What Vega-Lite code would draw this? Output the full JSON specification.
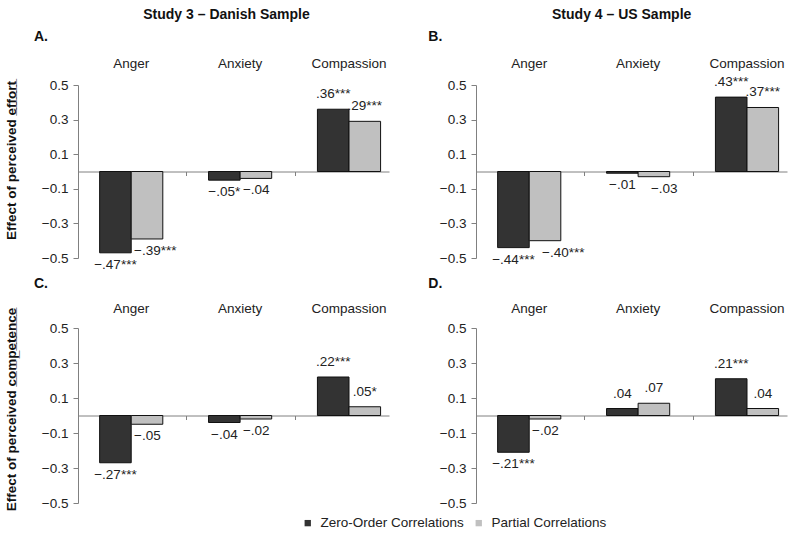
{
  "$schema": "https://vega.github.io/schema/vega-lite/v6.json",
  "background": "white",
  "padding": {"left": 3, "top": 8, "right": 5, "bottom": 5},
  "config": {
    "font": "Liberation Sans",
    "view": {"stroke": null},
    "axis": {"labelFont": "Liberation Sans", "labelFontSize": 13.5, "labelColor": "#222", "domainColor": "#808080", "tickColor": "#808080", "grid": false, "titleFont": "Liberation Sans", "titleFontSize": 13.5, "titleFontWeight": "bold", "titleColor": "#111"},
    "title": {"font": "Liberation Sans", "fontSize": 14, "fontWeight": "bold", "color": "#111"},
    "text": {"font": "Liberation Sans", "fontSize": 13.5, "color": "#222"},
    "legend": {"labelFont": "Liberation Sans"}
  },
  "datasets": {
    "corr": [
      {"panel": "A", "emotion": "Anger", "series": "Zero-Order Correlations", "value": -0.47, "label": "−.47***"},
      {"panel": "A", "emotion": "Anger", "series": "Partial Correlations", "value": -0.39, "label": "−.39***"},
      {"panel": "A", "emotion": "Anxiety", "series": "Zero-Order Correlations", "value": -0.05, "label": "−.05*"},
      {"panel": "A", "emotion": "Anxiety", "series": "Partial Correlations", "value": -0.04, "label": "−.04"},
      {"panel": "A", "emotion": "Compassion", "series": "Zero-Order Correlations", "value": 0.36, "label": ".36***"},
      {"panel": "A", "emotion": "Compassion", "series": "Partial Correlations", "value": 0.29, "label": ".29***"},
      {"panel": "B", "emotion": "Anger", "series": "Zero-Order Correlations", "value": -0.44, "label": "−.44***"},
      {"panel": "B", "emotion": "Anger", "series": "Partial Correlations", "value": -0.40, "label": "−.40***"},
      {"panel": "B", "emotion": "Anxiety", "series": "Zero-Order Correlations", "value": -0.01, "label": "−.01"},
      {"panel": "B", "emotion": "Anxiety", "series": "Partial Correlations", "value": -0.03, "label": "−.03"},
      {"panel": "B", "emotion": "Compassion", "series": "Zero-Order Correlations", "value": 0.43, "label": ".43***"},
      {"panel": "B", "emotion": "Compassion", "series": "Partial Correlations", "value": 0.37, "label": ".37***"},
      {"panel": "C", "emotion": "Anger", "series": "Zero-Order Correlations", "value": -0.27, "label": "−.27***"},
      {"panel": "C", "emotion": "Anger", "series": "Partial Correlations", "value": -0.05, "label": "−.05"},
      {"panel": "C", "emotion": "Anxiety", "series": "Zero-Order Correlations", "value": -0.04, "label": "−.04"},
      {"panel": "C", "emotion": "Anxiety", "series": "Partial Correlations", "value": -0.02, "label": "−.02"},
      {"panel": "C", "emotion": "Compassion", "series": "Zero-Order Correlations", "value": 0.22, "label": ".22***"},
      {"panel": "C", "emotion": "Compassion", "series": "Partial Correlations", "value": 0.05, "label": ".05*"},
      {"panel": "D", "emotion": "Anger", "series": "Zero-Order Correlations", "value": -0.21, "label": "−.21***"},
      {"panel": "D", "emotion": "Anger", "series": "Partial Correlations", "value": -0.02, "label": "−.02"},
      {"panel": "D", "emotion": "Anxiety", "series": "Zero-Order Correlations", "value": 0.04, "label": ".04"},
      {"panel": "D", "emotion": "Anxiety", "series": "Partial Correlations", "value": 0.07, "label": ".07"},
      {"panel": "D", "emotion": "Compassion", "series": "Zero-Order Correlations", "value": 0.21, "label": ".21***"},
      {"panel": "D", "emotion": "Compassion", "series": "Partial Correlations", "value": 0.04, "label": ".04"}
    ]
  },
  "data": {"name": "corr"},
  "spacing": 39,
  "hconcat": [
    {
      "title": {"text": "Study 3 – Danish Sample", "anchor": "middle", "dx": 30, "offset": 8},
      "spacing": 5,
      "vconcat": [
        {
          "title": {"text": "A.", "anchor": "start", "dx": 30, "offset": 12},
          "width": 311, "height": 173,
          "transform": [{"filter": "datum.panel === 'A'"}],
          "encoding": {
            "xOffset": {"field": "series", "type": "nominal", "sort": ["Zero-Order Correlations", "Partial Correlations"]},
            "y": {"field": "value", "type": "quantitative", "scale": {"domain": [-0.5, 0.5], "nice": false, "zero": false},
                  "axis": {"values": [-0.5, -0.3, -0.1, 0.1, 0.3, 0.5], "format": ".1f", "title": "Effect of perceived e̲f̲f̲o̲r̲t̲", "titleX": -60, "titleY": 75, "titleAngle": -90, "titleAlign": "center", "titleBaseline": "bottom", "domain": true, "ticks": true, "tickSize": 5, "labelPadding": 5}}
          },
          "layer": [
            {"mark": {"type": "bar", "stroke": "#111", "strokeWidth": 1},
             "encoding": {
               "x": {"field": "emotion", "type": "nominal", "sort": ["Anger", "Anxiety", "Compassion"], "scale": {"paddingInner": 0.42, "paddingOuter": 0.138, "align": 0.72},
                     "axis": {"orient": "bottom", "offset": -86.5, "labels": false, "title": null, "values": ["Anger", "Anxiety"], "bandPosition": 1, "tickOffset": 23, "tickSize": 4}},
               "color": {"field": "series", "type": "nominal", "sort": ["Zero-Order Correlations", "Partial Correlations"], "scale": {"domain": ["Zero-Order Correlations", "Partial Correlations"], "range": ["#333333", "#c0c0c0"]},
                         "legend": {"title": null, "orient": "none", "legendX": 223, "legendY": 431, "direction": "horizontal", "symbolType": "square", "symbolSize": 40, "symbolStrokeWidth": 0, "labelFontSize": 13.5, "labelColor": "#222", "columnPadding": 8, "labelOffset": 6}}
             }},
            {"transform": [{"filter": "datum.value < 0 && datum.series === 'Zero-Order Correlations'"}],
             "mark": {"type": "text", "baseline": "top", "dy": 5},
             "encoding": {
               "x": {"field": "emotion", "type": "nominal", "sort": ["Anger", "Anxiety", "Compassion"], "scale": {"paddingInner": 0.42, "paddingOuter": 0.138, "align": 0.72},
                     "axis": {"orient": "top", "title": null, "domain": false, "ticks": false, "labelPadding": 15, "labelAngle": 0}},
               "text": {"field": "label"}
             }},
            {"transform": [{"filter": "datum.value < 0 && datum.series === 'Partial Correlations'"}],
             "mark": {"type": "text", "baseline": "top", "align": "left", "dx": -13, "dy": 5},
             "encoding": {
               "x": {"field": "emotion", "type": "nominal", "sort": ["Anger", "Anxiety", "Compassion"], "axis": null},
               "text": {"field": "label"}
             }},
            {"transform": [{"filter": "datum.value >= 0"}],
             "mark": {"type": "text", "baseline": "bottom", "dy": -8},
             "encoding": {
               "x": {"field": "emotion", "type": "nominal", "sort": ["Anger", "Anxiety", "Compassion"], "axis": null},
               "text": {"field": "label"}
             }}
          ],
          "resolve": {"axis": {"x": "independent"}}
        },
        {
          "title": {"text": "C.", "anchor": "start", "dx": 30, "offset": 10},
          "width": 311, "height": 175,
          "transform": [{"filter": "datum.panel === 'C'"}],
          "encoding": {
            "xOffset": {"field": "series", "type": "nominal", "sort": ["Zero-Order Correlations", "Partial Correlations"]},
            "y": {"field": "value", "type": "quantitative", "scale": {"domain": [-0.5, 0.5], "nice": false, "zero": false},
                  "axis": {"values": [-0.5, -0.3, -0.1, 0.1, 0.3, 0.5], "format": ".1f", "title": "Effect of perceived c̲o̲m̲p̲e̲t̲e̲n̲c̲e̲", "titleX": -60, "titleY": 81, "titleAngle": -90, "titleAlign": "center", "titleBaseline": "bottom", "domain": true, "ticks": true, "tickSize": 5, "labelPadding": 5}}
          },
          "layer": [
            {"mark": {"type": "bar", "stroke": "#111", "strokeWidth": 1},
             "encoding": {
               "x": {"field": "emotion", "type": "nominal", "sort": ["Anger", "Anxiety", "Compassion"], "scale": {"paddingInner": 0.42, "paddingOuter": 0.138, "align": 0.72},
                     "axis": {"orient": "bottom", "offset": -87.5, "labels": false, "title": null, "values": ["Anger", "Anxiety"], "bandPosition": 1, "tickOffset": 23, "tickSize": 4}},
               "color": {"field": "series", "type": "nominal", "sort": ["Zero-Order Correlations", "Partial Correlations"], "scale": {"domain": ["Zero-Order Correlations", "Partial Correlations"], "range": ["#333333", "#c0c0c0"]},
                         "legend": {"title": null, "orient": "none", "legendX": 223, "legendY": 431, "direction": "horizontal", "symbolType": "square", "symbolSize": 40, "symbolStrokeWidth": 0, "labelFontSize": 13.5, "labelColor": "#222", "columnPadding": 8, "labelOffset": 6}}
             }},
            {"transform": [{"filter": "datum.value < 0 && datum.series === 'Zero-Order Correlations'"}],
             "mark": {"type": "text", "baseline": "top", "dy": 5},
             "encoding": {
               "x": {"field": "emotion", "type": "nominal", "sort": ["Anger", "Anxiety", "Compassion"], "scale": {"paddingInner": 0.42, "paddingOuter": 0.138, "align": 0.72},
                     "axis": {"orient": "top", "title": null, "domain": false, "ticks": false, "labelPadding": 13, "labelAngle": 0}},
               "text": {"field": "label"}
             }},
            {"transform": [{"filter": "datum.value < 0 && datum.series === 'Partial Correlations'"}],
             "mark": {"type": "text", "baseline": "top", "align": "left", "dx": -13, "dy": 5},
             "encoding": {
               "x": {"field": "emotion", "type": "nominal", "sort": ["Anger", "Anxiety", "Compassion"], "axis": null},
               "text": {"field": "label"}
             }},
            {"transform": [{"filter": "datum.value >= 0"}],
             "mark": {"type": "text", "baseline": "bottom", "dy": -8},
             "encoding": {
               "x": {"field": "emotion", "type": "nominal", "sort": ["Anger", "Anxiety", "Compassion"], "axis": null},
               "text": {"field": "label"}
             }}
          ],
          "resolve": {"axis": {"x": "independent"}}
        }
      ]
    },
    {
      "title": {"text": "Study 4 – US Sample", "anchor": "middle", "dx": 14, "offset": 8},
      "spacing": 10,
      "vconcat": [
        {
          "title": {"text": "B.", "anchor": "start", "dx": -11, "offset": 12},
          "width": 311, "height": 173,
          "transform": [{"filter": "datum.panel === 'B'"}],
          "encoding": {
            "xOffset": {"field": "series", "type": "nominal", "sort": ["Zero-Order Correlations", "Partial Correlations"]},
            "y": {"field": "value", "type": "quantitative", "scale": {"domain": [-0.5, 0.5], "nice": false, "zero": false},
                  "axis": {"values": [-0.5, -0.3, -0.1, 0.1, 0.3, 0.5], "format": ".1f", "title": null, "domain": true, "ticks": true, "tickSize": 5, "labelPadding": 5}}
          },
          "layer": [
            {"mark": {"type": "bar", "stroke": "#111", "strokeWidth": 1},
             "encoding": {
               "x": {"field": "emotion", "type": "nominal", "sort": ["Anger", "Anxiety", "Compassion"], "scale": {"paddingInner": 0.42, "paddingOuter": 0.138, "align": 0.72},
                     "axis": {"orient": "bottom", "offset": -86.5, "labels": false, "title": null, "values": ["Anger", "Anxiety"], "bandPosition": 1, "tickOffset": 23, "tickSize": 4}},
               "color": {"field": "series", "type": "nominal", "sort": ["Zero-Order Correlations", "Partial Correlations"], "scale": {"domain": ["Zero-Order Correlations", "Partial Correlations"], "range": ["#333333", "#c0c0c0"]},
                         "legend": {"title": null, "orient": "none", "legendX": 223, "legendY": 431, "direction": "horizontal", "symbolType": "square", "symbolSize": 40, "symbolStrokeWidth": 0, "labelFontSize": 13.5, "labelColor": "#222", "columnPadding": 8, "labelOffset": 6}}
             }},
            {"transform": [{"filter": "datum.value < 0 && datum.series === 'Zero-Order Correlations'"}],
             "mark": {"type": "text", "baseline": "top", "dy": 5},
             "encoding": {
               "x": {"field": "emotion", "type": "nominal", "sort": ["Anger", "Anxiety", "Compassion"], "scale": {"paddingInner": 0.42, "paddingOuter": 0.138, "align": 0.72},
                     "axis": {"orient": "top", "title": null, "domain": false, "ticks": false, "labelPadding": 15, "labelAngle": 0}},
               "text": {"field": "label"}
             }},
            {"transform": [{"filter": "datum.value < 0 && datum.series === 'Partial Correlations'"}],
             "mark": {"type": "text", "baseline": "top", "align": "left", "dx": -3, "dy": 5},
             "encoding": {
               "x": {"field": "emotion", "type": "nominal", "sort": ["Anger", "Anxiety", "Compassion"], "axis": null},
               "text": {"field": "label"}
             }},
            {"transform": [{"filter": "datum.value >= 0"}],
             "mark": {"type": "text", "baseline": "bottom", "dy": -8},
             "encoding": {
               "x": {"field": "emotion", "type": "nominal", "sort": ["Anger", "Anxiety", "Compassion"], "axis": null},
               "text": {"field": "label"}
             }}
          ],
          "resolve": {"axis": {"x": "independent"}}
        },
        {
          "title": {"text": "D.", "anchor": "start", "dx": -11, "offset": 10},
          "width": 311, "height": 175,
          "transform": [{"filter": "datum.panel === 'D'"}],
          "encoding": {
            "xOffset": {"field": "series", "type": "nominal", "sort": ["Zero-Order Correlations", "Partial Correlations"]},
            "y": {"field": "value", "type": "quantitative", "scale": {"domain": [-0.5, 0.5], "nice": false, "zero": false},
                  "axis": {"values": [-0.5, -0.3, -0.1, 0.1, 0.3, 0.5], "format": ".1f", "title": null, "domain": true, "ticks": true, "tickSize": 5, "labelPadding": 5}}
          },
          "layer": [
            {"mark": {"type": "bar", "stroke": "#111", "strokeWidth": 1},
             "encoding": {
               "x": {"field": "emotion", "type": "nominal", "sort": ["Anger", "Anxiety", "Compassion"], "scale": {"paddingInner": 0.42, "paddingOuter": 0.138, "align": 0.72},
                     "axis": {"orient": "bottom", "offset": -87.5, "labels": false, "title": null, "values": ["Anger", "Anxiety"], "bandPosition": 1, "tickOffset": 23, "tickSize": 4}},
               "color": {"field": "series", "type": "nominal", "sort": ["Zero-Order Correlations", "Partial Correlations"], "scale": {"domain": ["Zero-Order Correlations", "Partial Correlations"], "range": ["#333333", "#c0c0c0"]},
                         "legend": {"title": null, "orient": "none", "legendX": 223, "legendY": 431, "direction": "horizontal", "symbolType": "square", "symbolSize": 40, "symbolStrokeWidth": 0, "labelFontSize": 13.5, "labelColor": "#222", "columnPadding": 8, "labelOffset": 6}}
             }},
            {"transform": [{"filter": "datum.value < 0 && datum.series === 'Zero-Order Correlations'"}],
             "mark": {"type": "text", "baseline": "top", "dy": 5},
             "encoding": {
               "x": {"field": "emotion", "type": "nominal", "sort": ["Anger", "Anxiety", "Compassion"], "scale": {"paddingInner": 0.42, "paddingOuter": 0.138, "align": 0.72},
                     "axis": {"orient": "top", "title": null, "domain": false, "ticks": false, "labelPadding": 13, "labelAngle": 0}},
               "text": {"field": "label"}
             }},
            {"transform": [{"filter": "datum.value < 0 && datum.series === 'Partial Correlations'"}],
             "mark": {"type": "text", "baseline": "top", "align": "left", "dx": -13, "dy": 5},
             "encoding": {
               "x": {"field": "emotion", "type": "nominal", "sort": ["Anger", "Anxiety", "Compassion"], "axis": null},
               "text": {"field": "label"}
             }},
            {"transform": [{"filter": "datum.value >= 0"}],
             "mark": {"type": "text", "baseline": "bottom", "dy": -8},
             "encoding": {
               "x": {"field": "emotion", "type": "nominal", "sort": ["Anger", "Anxiety", "Compassion"], "axis": null},
               "text": {"field": "label"}
             }}
          ],
          "resolve": {"axis": {"x": "independent"}}
        }
      ]
    }
  ]
}
